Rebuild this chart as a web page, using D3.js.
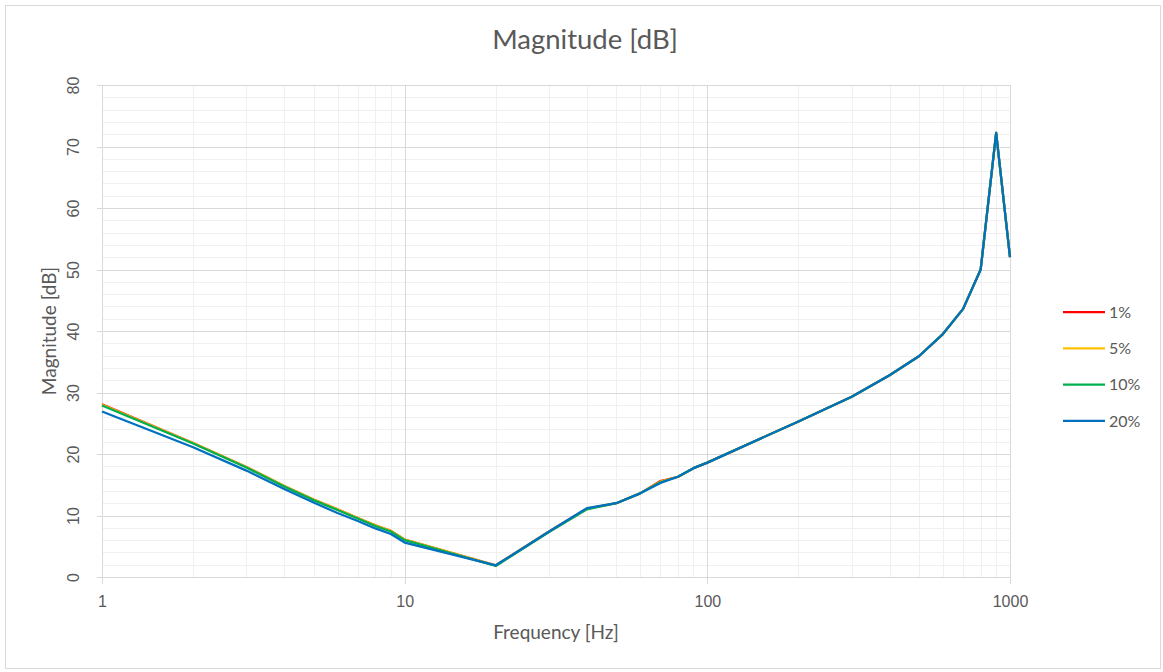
<!DOCTYPE html>
<html lang="en">
<head>
    <meta charset="UTF-8">
    <title>Magnitude [dB]</title>
    <script src="https://d3js.org/d3.v7.min.js"></script>
    <style>
        body {
            margin: 0;
            background-color: #ffffff;
            font-family: Lato, "Open Sans", sans-serif;
        }
        .grid-major line { stroke: #d9d9d9; stroke-width: 1; }
        .grid-minor line { stroke: #f0f0f0; stroke-width: 1; }
        .axis text { fill: #595959; font-size: 16px; }
        .series { fill: none; stroke-width: 2.25; stroke-linejoin: round; }
    </style>
</head>
<body>
    <svg id="chart" width="1163" height="672"></svg>

    <script>
        // data
        const freqs = [1, 2, 3, 4, 5, 6, 7, 8, 9, 10,
                       20, 30, 40, 50, 60, 70, 80, 90, 100,
                       200, 300, 400, 500, 600, 700, 800, 900, 1000];
        const seriesNames = ["1%", "5%", "10%", "20%"];
        const seriesColors = ["#ff0000", "#ffc000", "#00b050", "#0070c0"];
        const mag1 = [28.1, 21.8, 17.9, 14.8, 12.6, 11.0, 9.6, 8.4, 7.5, 6.1,
                      1.9, 7.4, 11.1, 12.0, 13.6, 15.6, 16.3, 17.7, 18.6,
                      25.3, 29.3, 32.8, 35.9, 39.5, 43.6, 50.0, 72.2, 52.0];
        const mag5 = [28.0, 21.8, 17.9, 14.8, 12.6, 11.0, 9.6, 8.4, 7.5, 6.1,
                      1.9, 7.4, 11.1, 12.0, 13.6, 15.5, 16.3, 17.7, 18.6,
                      25.3, 29.3, 32.8, 35.9, 39.5, 43.6, 50.0, 72.2, 52.0];
        const mag10 = [27.9, 21.7, 17.8, 14.7, 12.5, 10.9, 9.5, 8.3, 7.4, 6.0,
                       1.8, 7.3, 11.0, 12.0, 13.6, 15.4, 16.3, 17.7, 18.6,
                       25.3, 29.3, 32.8, 35.9, 39.5, 43.6, 50.0, 72.2, 52.0];
        const mag20 = [26.9, 21.1, 17.3, 14.3, 12.1, 10.4, 9.1, 7.9, 7.0, 5.6,
                       1.9, 7.4, 11.2, 12.0, 13.6, 15.3, 16.3, 17.7, 18.6,
                       25.3, 29.3, 32.8, 35.9, 39.5, 43.6, 50.0, 72.2, 52.0];
        const seriesValues = [mag1, mag5, mag10, mag20];
        const xTickValues = [1, 10, 100, 1000];
        const yTickValues = [0, 10, 20, 30, 40, 50, 60, 70, 80];

        const svg = d3.select("#chart");
        const margin = {top: 85, right: 153, bottom: 95, left: 102};
        const width = 1163 - margin.left - margin.right;
        const height = 672 - margin.top - margin.bottom;

        // outer frame
        svg.append("rect")
            .attr("x", 5.5).attr("y", 5.5)
            .attr("width", 1155).attr("height", 663)
            .attr("fill", "#fff")
            .attr("stroke", "#d9d9d9");

        const g = svg.append("g")
            .attr("transform", `translate(${margin.left},${margin.top})`);

        const x = d3.scaleLog().domain([1, 1000]).range([0, width]);
        const y = d3.scaleLinear().domain([0, 80]).range([height, 0]);

        // minor grid
        const xMinor = [];
        [1, 10, 100].forEach(d => { for (let k = 2; k <= 9; k++) xMinor.push(d * k); });
        const yMinor = d3.range(0, 81, 2).filter(v => v % 10 !== 0);

        const minor = g.append("g").attr("class", "grid-minor");
        minor.selectAll(".vx").data(xMinor).enter().append("line")
            .attr("x1", d => Math.round(x(d)) + 0.5).attr("x2", d => Math.round(x(d)) + 0.5)
            .attr("y1", 0).attr("y2", height);
        minor.selectAll(".hy").data(yMinor).enter().append("line")
            .attr("x1", 0).attr("x2", width)
            .attr("y1", d => Math.round(y(d)) + 0.5).attr("y2", d => Math.round(y(d)) + 0.5);

        // major grid
        const major = g.append("g").attr("class", "grid-major");
        major.selectAll(".vx").data(xTickValues).enter().append("line")
            .attr("x1", d => Math.round(x(d)) + 0.5).attr("x2", d => Math.round(x(d)) + 0.5)
            .attr("y1", 0).attr("y2", height + 7);
        major.selectAll(".hy").data(yTickValues).enter().append("line")
            .attr("x1", -5).attr("x2", width)
            .attr("y1", d => Math.round(y(d)) + 0.5).attr("y2", d => Math.round(y(d)) + 0.5);

        // axes (labels only, lines drawn by grid)
        const xAxis = g.append("g")
            .attr("class", "axis")
            .attr("transform", `translate(0,${height})`)
            .call(d3.axisBottom(x).tickValues(xTickValues).tickFormat(d3.format("d")).tickSize(0).tickPadding(19));
        xAxis.select(".domain").remove();

        const yAxis = g.append("g")
            .attr("class", "axis")
            .call(d3.axisLeft(y).tickValues(yTickValues).tickSize(0));
        yAxis.select(".domain").remove();
        yAxis.selectAll("text")
            .attr("x", null).attr("dy", null)
            .attr("text-anchor", "middle")
            .attr("transform", "translate(-29,0) rotate(-90)")
            .attr("dy", "0.35em");

        // series
        const line = d3.line()
            .x((d, i) => x(freqs[i]))
            .y(d => y(d));

        g.selectAll(".series")
            .data(seriesValues)
            .enter().append("path")
            .attr("class", "series")
            .attr("stroke", (d, i) => seriesColors[i])
            .attr("d", line);

        // title
        svg.append("text")
            .attr("x", 585).attr("y", 49)
            .attr("text-anchor", "middle")
            .attr("fill", "#595959")
            .style("font-size", "27.5px")
            .text("Magnitude [dB]");

        svg.append("text")
            .attr("x", margin.left + width / 2).attr("y", 639)
            .attr("text-anchor", "middle")
            .attr("fill", "#595959")
            .style("font-size", "19px")
            .text("Frequency [Hz]");

        svg.append("text")
            .attr("transform", `translate(56,${margin.top + height / 2}) rotate(-90)`)
            .attr("text-anchor", "middle")
            .attr("fill", "#595959")
            .style("font-size", "19px")
            .text("Magnitude [dB]");

        // legend
        const legend = svg.append("g").attr("transform", "translate(1063,312)");
        const items = legend.selectAll(".item")
            .data(seriesNames)
            .enter().append("g")
            .attr("transform", (d, i) => `translate(0,${i * 36.3})`);
        items.append("line")
            .attr("x1", 0).attr("x2", 42)
            .attr("stroke", (d, i) => seriesColors[i])
            .attr("stroke-width", 2.25);
        items.append("text")
            .attr("x", 46).attr("dy", "0.35em")
            .attr("fill", "#595959")
            .style("font-size", "16px")
            .text(d => d);
    </script>
</body>
</html>
